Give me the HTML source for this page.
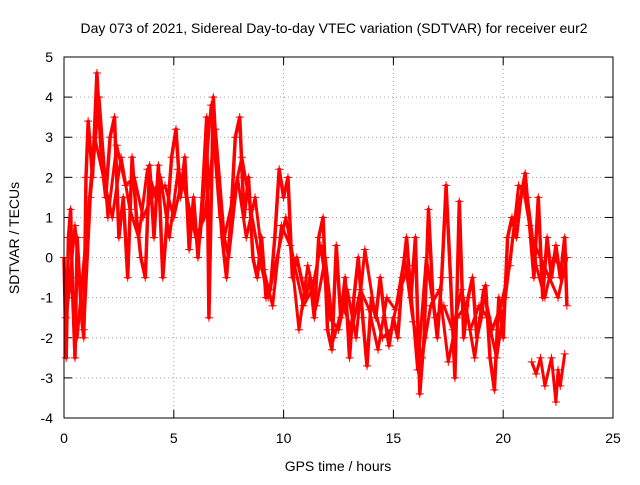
<!DOCTYPE html>
<html><head><meta charset="utf-8"><style>
body{margin:0;background:#fff;font-family:"Liberation Sans",sans-serif}
svg text{font-family:"Liberation Sans",sans-serif;font-size:14px;fill:#000}
</style></head><body>
<svg id="chart" width="640" height="480">
<text x="334" y="33" text-anchor="middle">Day 073 of 2021, Sidereal Day-to-day VTEC variation (SDTVAR) for receiver eur2</text>
<text x="338" y="471" text-anchor="middle">GPS time / hours</text>
<text x="0" y="0" text-anchor="middle" transform="translate(19,238) rotate(-90)">SDTVAR / TECUs</text>
<g id="grid"></g><g id="ticks"></g><g id="marks"></g>
<rect x="64" y="57" width="549" height="361" fill="none" stroke="#000" stroke-width="1"/>
</svg>
<script>
const xTicks=[0,5,10,15,20,25];
const yTicks=[-4,-3,-2,-1,0,1,2,3,4,5];
const trackA_t=[0,0.1,0.2,0.3,0.4,0.5,0.6,0.8,0.9,1.0,1.1,1.3,1.5,1.7,1.9,2.1,2.3,2.5,2.7,2.9,3.1,3.3,3.5,3.7,3.9,4.1,4.3,4.5,4.7,4.9,5.1,5.3,5.5,5.7,5.9,6.1,6.3,6.5,6.6,6.8,7.0,7.2,7.4,7.6,7.8,8.0,8.2,8.4,8.6,8.8,9.0,9.2,9.4,9.6,9.8,10,10.2,10.4,10.6,10.8,11,11.2,11.4,11.6,11.8,12,12.2,12.4,12.6,12.8,13,13.2,13.4,13.6,13.8,14,14.2,14.4,14.6,14.8,15,15.2,15.4,15.6,15.8,16,16.2,16.4,16.6,16.8,17,17.2,17.4,17.6,17.8,18,18.2,18.4,18.6,18.8,19,19.2,19.4,19.6,19.8,20,20.2,20.4,20.6,20.8,21,21.2,21.4,21.6,21.8,22,22.2,22.4,22.6,22.8,22.9];
const trackA_v=[0,-2.5,0.5,1.2,-1,-2.5,0.5,-1.5,-2,2,3.4,2,4.6,2.5,1.5,3,3.5,0.5,1.5,-0.5,2.5,1,0,-0.5,2.3,0.5,2.3,-0.5,1,2.5,3.2,1.5,2.5,0.2,1.5,0,1.5,3.5,-1.5,4,2,0.5,-0.5,1,3,3.5,1,2,0,-0.5,0.5,-1,-0.8,0.5,2.2,1.5,2,-0.5,0,-0.5,-1,-0.5,-1.5,0.5,1,-1.8,-2.3,0.3,-1.5,-0.5,-2.5,-1,0,-1.5,-2.7,-1,-1.5,-0.5,-1.5,-2.2,-1.5,-2,-0.5,0.5,-1,0.5,-3.4,-2,1.2,-1,-2,-0.5,1.8,-0.5,-3,1.4,-2,-1,-0.5,-2,-1.5,-0.7,-2.5,-3.3,-1,-2,0.5,1,0.5,1.5,2.1,0.8,-0.5,1.5,-1,0.5,-0.5,0.3,-0.5,0.5,-1.2];
const trackB_t=[0.1,0.3,0.6,1.0,1.4,1.8,2.2,2.6,3.0,3.4,3.8,4.2,4.6,5.0,5.4,5.8,6.2,6.7,7.1,7.5,7.9,8.3,8.7,9.1,9.5,9.9,10.3,10.7,11.1,11.5,11.9,12.3,12.7,13.1,13.5,13.9,14.3,14.7,15.1,15.5,15.9,16.3,16.7,17.1,17.5,17.9,18.3,18.7,19.1,19.5,19.9,20.3,20.7,21.1,21.5,21.9,22.3,22.7];
const trackB_v=[-1.5,-0.5,-2,0.5,3,2,1,2.5,1.2,0.5,2.2,1.5,1.8,1,2,0.8,0.5,3.8,1,0,2,0.5,1.5,-0.3,-1.2,0.8,0.3,-1.8,-0.2,-1.2,0,-2,-1.2,-1.8,-0.8,-1.3,-2.3,-1,-1.3,0,-1.6,-2.5,-1.2,-0.8,-2.6,-1.5,-1.2,-2.5,-0.8,-1.8,-1.2,-0.2,1.8,1.5,-0.2,-1,0,-0.3];
const trackC_t=[21.3,21.5,21.7,21.9,22.2,22.4,22.5,22.6,22.8];
const trackC_v=[-2.6,-2.9,-2.5,-3.2,-2.5,-3.6,-2.8,-3.2,-2.4];
const trackD_t=[0.2,0.5,0.9,1.2,1.6,2.0,2.4,2.8,3.2,3.6,4.0,4.4,4.8,5.2,5.6,6.0,6.4,6.9,7.3,7.7,8.1,8.5,8.9,9.3,9.7,10.1,10.5,10.9,11.3,11.7,12.1,12.5,12.9,13.3,13.7,14.1,14.5,14.9,15.3,15.7,16.1,16.5,16.9,17.3,17.7,18.1,18.5,18.9,19.3,19.7,20.1,20.5,20.9,21.3,21.7,22.1,22.5,22.9];
const trackD_v=[-1,0.8,-1.8,1.5,4,1,2.8,1.8,2,1,1.5,2,0.5,2.2,1.5,0.5,1,3.2,0.5,1.5,2.5,1.2,0,-1,0,1,-0.2,-1.2,-0.8,0.3,-1.5,-1.8,-0.8,-2,0.2,-1.2,-2,-1.8,-0.8,-0.2,-2.8,0,-1.5,-1.2,-1.8,-0.8,-1.8,-1.2,-1.5,-2.5,-1,0.8,1.8,0.5,0,-0.5,-1,0];
const X=t=>64+t*549/25, Y=v=>418-(v+4)*361/9;
const NS="http://www.w3.org/2000/svg";
const grid=document.getElementById('grid'),ticks=document.getElementById('ticks'),marks=document.getElementById('marks');
function el(tag,attrs,parent){const e=document.createElementNS(NS,tag);for(const k in attrs)e.setAttribute(k,attrs[k]);parent.appendChild(e);return e;}
xTicks.forEach(t=>{const x=X(t);
 if(t>0&&t<25){const g=el('line',{x1:x,x2:x,y1:57,y2:418,stroke:'#a0a0a0','stroke-dasharray':'1,3'},grid);
 
 }
 el('line',{x1:x,x2:x,y1:418,y2:410,stroke:'#000'},ticks);el('line',{x1:x,x2:x,y1:57,y2:65,stroke:'#000'},ticks);
 const tx=el('text',{x:x,y:443,'text-anchor':'middle'},ticks);tx.textContent=t;
 
 });
yTicks.forEach(v=>{const y=Y(v);
 if(v>-4&&v<5){const g=el('line',{x1:64,x2:613,y1:y,y2:y,stroke:'#a0a0a0','stroke-dasharray':'1,3'},grid);
 
 }
 el('line',{x1:64,x2:72,y1:y,y2:y,stroke:'#000'},ticks);el('line',{x1:613,x2:605,y1:y,y2:y,stroke:'#000'},ticks);
 const tx=el('text',{x:53,y:y+5,'text-anchor':'end'},ticks);tx.textContent=v;
 
 });
function track(ts,vs,name,w){
 const pts=ts.map((t,i)=>X(t).toFixed(1)+','+Y(vs[i]).toFixed(1)).join(' ');
 const p=el('polyline',{points:pts,fill:'none',stroke:'#f00','stroke-width':w,'stroke-linejoin':'round'},marks);
 
 
 ts.forEach((t,i)=>{const x=X(t),y=Y(vs[i]);
  const m=el('path',{d:`M${x-4},${y}h8M${x},${y-4}v8`,stroke:'#f00','stroke-width':1},marks);
  
  });
}
track(trackA_t,trackA_v,'sdtvar-series-a',3.5);
track(trackB_t,trackB_v,'sdtvar-series-b',3);
track(trackD_t,trackD_v,'sdtvar-series-d',3);
track(trackC_t,trackC_v,'sdtvar-series-c',3);
</script>
</body></html>
